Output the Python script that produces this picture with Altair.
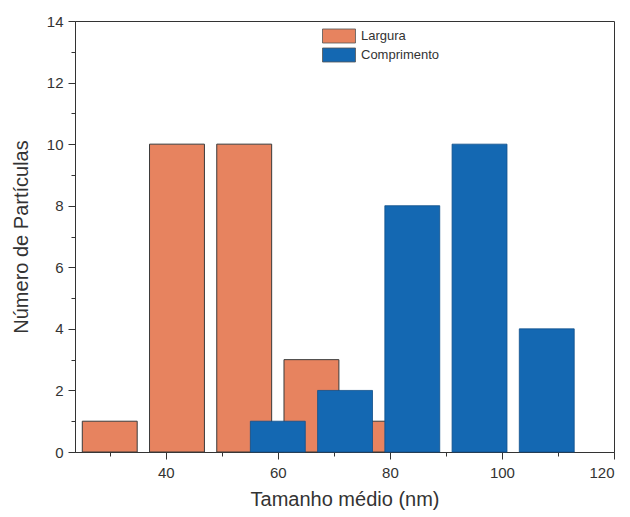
import altair as alt
import pandas as pd

# ---- data ----
series = ["Largura", "Comprimento"]
largura_centers = [30, 42, 54, 66, 78]
largura_counts = [1, 10, 10, 3, 1]
comp_centers = [60, 72, 84, 96, 108]
comp_counts = [1, 2, 8, 10, 4]
x_major = [40, 60, 80, 100, 120]
x_minor = [30, 50, 70, 90, 110]
y_major = [0, 2, 4, 6, 8, 10, 12, 14]
y_minor = [1, 3, 5, 7, 9, 11, 13]

HALF = 4.9  # half bar width in data units (style)

df_l = pd.DataFrame({"c": largura_centers, "n": largura_counts, "s": series[0]})
df_c = pd.DataFrame({"c": comp_centers, "n": comp_counts, "s": series[1]})

FONT = "Liberation Sans"
INK = "#333333"

x_scale = alt.Scale(domain=[23.8, 120], nice=False, zero=False)
y_scale = alt.Scale(domain=[0, 14], nice=False, zero=True)

legend = alt.Legend(
    orient="none", legendX=255, legendY=6, title=None,
    symbolType="M-2,-0.85L2,-0.85L2,0.85L-2,0.85Z", symbolSize=272,
    symbolStrokeColor="#555555", symbolStrokeWidth=0.8, symbolOpacity=1,
    labelFont=FONT, labelFontSize=13, labelColor=INK, labelOffset=13,
    rowPadding=1, padding=0,
)
color = alt.Color(
    "s:N",
    scale=alt.Scale(domain=series, range=["#E7835F", "#1468B2"]),
    legend=legend,
)

minor_x_axis = alt.Axis(
    values=x_minor, labels=False, title=None, domain=False, grid=False,
    ticks=True, tickSize=4, tickColor=INK, orient="bottom",
)
minor_y_axis = alt.Axis(
    values=y_minor, labels=False, title=None, domain=False, grid=False,
    ticks=True, tickSize=4, tickColor=INK, orient="left",
)
major_x_axis = alt.Axis(
    values=x_major, title="Tamanho médio (nm)", grid=False, orient="bottom",
    tickSize=7, tickColor=INK, domainColor=INK, labelPadding=6,
    labelFont=FONT, labelFontSize=15, labelColor=INK,
    titleFont=FONT, titleFontSize=20, titleFontWeight="normal", titleColor=INK,
    titleBaseline="alphabetic", titleY=53,
)
major_y_axis = alt.Axis(
    values=y_major, title="Número de Partículas", grid=False, orient="left",
    tickSize=7, tickColor=INK, domainColor=INK, labelPadding=5,
    labelFont=FONT, labelFontSize=15, labelColor=INK,
    titleFont=FONT, titleFontSize=20, titleFontWeight="normal", titleColor=INK,
    titleBaseline="alphabetic", titleX=-48,
)

orange = (
    alt.Chart(df_l)
    .transform_calculate(x0=f"datum.c - {HALF}", x1=f"datum.c + {HALF}")
    .mark_rect(stroke="#3a3a3a", strokeWidth=1)
    .encode(
        x=alt.X("x0:Q", scale=x_scale, axis=minor_x_axis),
        x2="x1:Q",
        y=alt.Y("n:Q", scale=y_scale, axis=minor_y_axis),
        y2=alt.datum(0),
        fill=color,
    )
)

blue = (
    alt.Chart(df_c)
    .transform_calculate(x0=f"datum.c - {HALF}", x1=f"datum.c + {HALF}")
    .mark_rect(stroke="#0f4f8a", strokeWidth=0.8)
    .encode(
        x=alt.X("x0:Q", scale=x_scale, axis=major_x_axis),
        x2="x1:Q",
        y=alt.Y("n:Q", scale=y_scale, axis=major_y_axis),
        y2=alt.datum(0),
        fill=color,
    )
)

chart = (
    alt.layer(orange, blue)
    .resolve_axis(x="independent", y="independent")
    .properties(
        width=539, height=431,
        padding={"left": 75, "top": 21, "right": 16, "bottom": 65},
        autosize=alt.AutoSizeParams(type="none"),
        background="white",
    )
    .configure_view(stroke=INK, strokeWidth=1)
)

chart.save("out.html", embed_options={"renderer": "svg", "actions": False})
